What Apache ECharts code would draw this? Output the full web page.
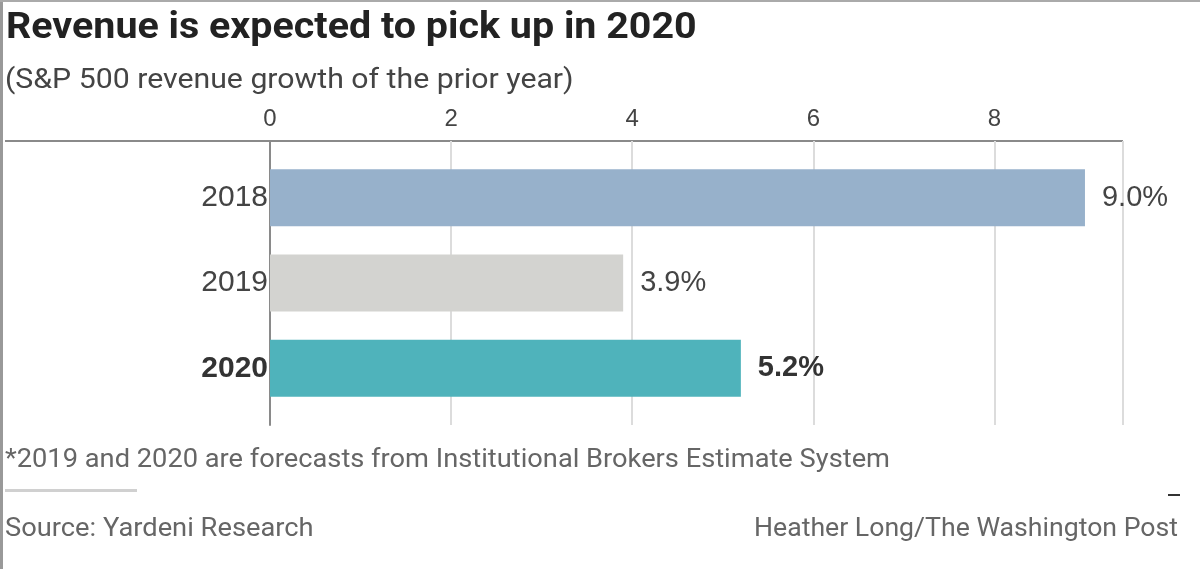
<!DOCTYPE html>
<html><head><meta charset="utf-8">
<script src="https://cdn.jsdelivr.net/npm/echarts@6/dist/echarts.min.js"></script>
<style>html,body{margin:0;padding:0;background:#fff}#c{width:1200px;height:569px}</style>
</head><body><div id="c"></div>
<script>
const categories = ['2018', '2019', '2020'];
const values = [9.0, 3.9, 5.2];
const barColors = ['#97b1cb', '#d3d3d0', '#4fb3bb'];
const xTicks = [0, 2, 4, 6, 8];
const xMax = 9.42;

const chart = echarts.init(document.getElementById('c'));
const font = 'Roboto, "Liberation Sans", sans-serif';
const numFont = '"Liberation Sans", Arial, sans-serif';
function txt(text, x, y, size, scaleX, opts) {
  return Object.assign({type: 'text', x: x, y: y, scaleX: scaleX, style: {text: text,
    font: size + 'px ' + font, fill: '#666', textVerticalAlign: 'middle', textAlign: 'left'}}, opts || {});
}
const g = [
  {type: 'rect', shape: {x: 0, y: 0, width: 3, height: 569}, style: {fill: '#999'}},
  {type: 'rect', shape: {x: 0, y: 0, width: 1200, height: 2}, style: {fill: '#aaa'}},
  {type: 'line', shape: {x1: 5, y1: 141, x2: 1123, y2: 141}, style: {stroke: '#8a8a8a', lineWidth: 2}},
  {type: 'rect', shape: {x: 5, y: 489, width: 132, height: 3}, style: {fill: '#d0d0d0'}},
  {type: 'rect', shape: {x: 1168, y: 494, width: 12, height: 2}, style: {fill: '#333'}}
];
const t1 = txt('Revenue is expected to pick up in 2020', 6, 29, 36, 1.095);
t1.style.font = 'bold 36px ' + font; t1.style.fill = '#222';
const t2 = txt('(S&P 500 revenue growth of the prior year)', 5, 81, 28, 1.08);
t2.style.fill = '#444';
g.push(t1, t2,
  txt('*2019 and 2020 are forecasts from Institutional Brokers Estimate System', 5, 461, 25, 1.09),
  txt('Source: Yardeni Research', 5, 530, 25, 1.092));
const cr = txt('Heather Long/The Washington Post', 1178, 530, 25, 1.066);
cr.style.textAlign = 'right';
g.push(cr);

chart.setOption({
  animation: false,
  backgroundColor: '#fff',
  grid: [
    {left: 270, right: 77, top: 141, bottom: 144},
    {left: 270, right: 77, top: 155, height: 256}
  ],
  xAxis: [
    {gridIndex: 0, type: 'value', position: 'top', min: 0, max: xMax, interval: 2,
     axisLine: {show: false}, axisTick: {show: false},
     splitLine: {show: true, lineStyle: {color: '#dcdcdc', width: 2}},
     axisLabel: {fontFamily: numFont, fontSize: 24, color: '#444', margin: 10,
       formatter: v => xTicks.includes(v) ? String(v) : ''}},
    {gridIndex: 1, type: 'value', min: 0, max: xMax, show: false}
  ],
  yAxis: [
    {gridIndex: 0, type: 'category', data: [''], axisTick: {show: false}, axisLabel: {show: false},
     axisLine: {show: true, lineStyle: {color: '#8a8a8a', width: 2}}},
    {gridIndex: 1, type: 'category', data: categories, inverse: true,
     axisLine: {show: false}, axisTick: {show: false},
     axisLabel: {fontFamily: numFont, fontSize: 30, color: '#444', margin: 2,
       formatter: v => v === '2020' ? '{b|' + v + '}' : v,
       rich: {b: {fontFamily: numFont, fontSize: 30, fontWeight: 'bold', color: '#333'}}}}
  ],
  series: [{
    type: 'bar', xAxisIndex: 1, yAxisIndex: 1,
    data: values.map((v, i) => ({value: v, itemStyle: {color: barColors[i]},
      label: {fontWeight: i === 2 ? 'bold' : 'normal', color: i === 2 ? '#333' : '#444'}})),
    barWidth: 57,
    label: {show: true, position: 'right', distance: 17, fontFamily: numFont, fontSize: 29,
      formatter: p => p.value.toFixed(1) + '%'}
  }],
  graphic: g
});
</script></body></html>
